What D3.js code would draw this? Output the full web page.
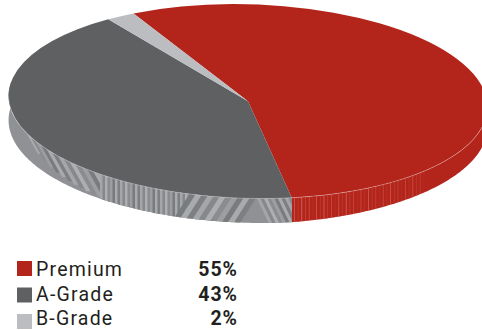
<!DOCTYPE html>
<html><head><meta charset="utf-8">
<script src="https://cdnjs.cloudflare.com/ajax/libs/d3/7.8.5/d3.min.js"></script>
<style>html,body{margin:0;padding:0;background:#fff}svg{display:block}</style>
</head><body><div id="c"></div>
<script>
const categories = ["Premium","A-Grade","B-Grade"];
const values = [55,43,2];
const labels = ["55%","43%","2%"];
const topColors = ["#b3241a","#5f6062","#bcbdc0"];
const wallBase = ["#b3241a","#8f9194"];
const greyStops = ["#7d7f82","#a4a6a9","#86888b","#acaeb0","#8a8c8f","#9c9ea1","#797b7e","#a8aaac"];
const redStops = ["#cf645a","#c04036","#d8786f","#c5493f","#cc5a50","#bb352b"];
// wall stripe layout: [start x, end x, lean per wall height, stripe width]
const greyZones = [[0,100,14,6],[100,192,0,2.5],[192,255,-16,6],[255,296,12,3.5]];

const W=482,H=330,cx=248,cy=101.3,rx=239.5,ry=97,tilt=1.6;
const svg=d3.select("#c").append("svg").attr("width",W).attr("height",H);
const defs=svg.append("defs");
defs.append("filter").attr("id","soft").attr("x",0).attr("y",0).attr("width",1).attr("height",1)
  .append("feGaussianBlur").attr("stdDeviation",0.6);
const startA=-29.2*Math.PI/180;
const pie=d3.pie().sort(null).startAngle(startA).endAngle(startA+2*Math.PI);
const arcs=pie(values);
const c=Math.cos(tilt*Math.PI/180), s=Math.sin(tilt*Math.PI/180);
const px=a=>cx+rx*Math.sin(a)*c+ry*Math.cos(a)*s;
const py=a=>cy-ry*Math.cos(a)*c+rx*Math.sin(a)*s;
const depth=d3.scaleLinear().domain([292,482]).range([24.5,20]).clamp(true);
const redEnd=arcs[0].endAngle;
const rimY=x=>{
  const u=Math.max(-1,Math.min(1,(x-cx)/rx));
  return py(Math.PI-Math.asin(u));
};

function wallPath(a0,a1){
  const pts=d3.range(0,161).map(i=>a0+(a1-a0)*i/160);
  const upper=pts.map(a=>[px(a),py(a)]);
  const lower=pts.slice().reverse().map(a=>[px(a),py(a)+depth(px(a))]);
  return "M"+upper.concat(lower).map(p=>p.join(",")).join("L")+"Z";
}
const wallStart=Math.PI/2-0.15, wallEnd=1.5*Math.PI+0.15;
defs.append("clipPath").attr("id","greyWall").append("path").attr("d",wallPath(redEnd,wallEnd));
defs.append("clipPath").attr("id","redWall").append("path").attr("d",wallPath(wallStart,redEnd));

svg.append("path").attr("d",wallPath(wallStart,redEnd)).attr("fill",wallBase[0]);
svg.append("path").attr("d",wallPath(redEnd,wallEnd)).attr("fill",wallBase[1]);

const greyG=svg.append("g").attr("clip-path","url(#greyWall)").append("g").attr("filter","url(#soft)");
let n=0;
greyZones.forEach(z=>{
  for(let x=z[0];x<z[1];x+=z[3]){
    const shade=greyStops[n++%greyStops.length];
    const y0=rimY(x)-4, y1=y0+36, off=z[2]*36/25;
    greyG.append("path").attr("fill",shade)
      .attr("d",`M${x},${y0}L${x+z[3]+0.4},${y0}L${x+z[3]+0.4+off},${y1}L${x+off},${y1}Z`);
  }
});
const redG=svg.append("g").attr("clip-path","url(#redWall)");
let m=0;
const fade=d3.scaleLinear().domain([294,424]).range([0.9,0.55]);
for(let x=294;x<424;x+=3.7){
  redG.append("rect").attr("x",x).attr("y",100).attr("width",0.8).attr("height",130)
    .attr("fill",redStops[m++%redStops.length]).attr("opacity",fade(x));
}

// top face
const arc=d3.arc().innerRadius(0).outerRadius(1);
const face=svg.append("g").attr("transform",`translate(${cx},${cy}) rotate(${tilt}) scale(${rx},${ry})`);
face.selectAll("path").data(arcs).join("path").attr("d",arc).attr("fill",(d,i)=>topColors[i]);
// rim highlight
const rimPts=d3.range(0,161).map(i=>Math.PI/2+0.2+(Math.PI*0.93)*i/160);
svg.append("path").attr("fill","none").attr("stroke","#fff").attr("stroke-opacity",0.45).attr("stroke-width",0.6)
  .attr("d",d3.line().x(px).y(py)(rimPts));

// legend
const swatchY=d3.scalePoint().domain(categories).range([261,314]);
const baseY=d3.scalePoint().domain(categories).range([276,325.2]);
const leg=svg.append("g");
categories.forEach((name,i)=>{
  leg.append("rect").attr("x",17).attr("y",swatchY(name)).attr("width",15).attr("height",15).attr("fill",topColors[i]);
  leg.append("text").attr("x",36).attr("y",baseY(name)).text(name)
    .attr("font-family","Roboto").attr("font-size",19.5).attr("letter-spacing",1.2).attr("fill","#231f20");
  leg.append("text").attr("x",238).attr("y",baseY(name)).attr("text-anchor","end").text(labels[i])
    .attr("font-family","Roboto").attr("font-weight",700).attr("font-size",19.5).attr("letter-spacing",1).attr("fill","#231f20");
});
</script></body></html>
